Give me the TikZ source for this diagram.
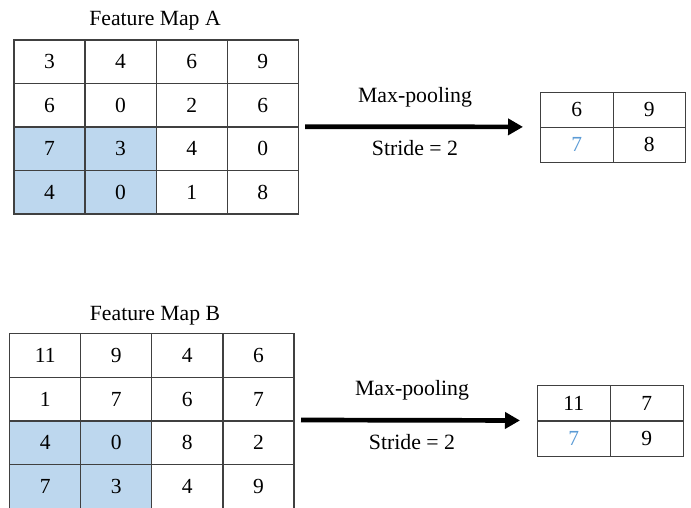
\documentclass[tikz,border=0pt]{standalone}
\usepackage{fontspec}
\setmainfont{Liberation Serif}
\usetikzlibrary{arrows.meta}
\definecolor{gridc}{HTML}{404040}
\definecolor{cellblue}{HTML}{BDD7EE}
\definecolor{txtblue}{HTML}{5B9BD5}
\tikzset{
  cellA/.style={draw=gridc, line width=1.2pt, minimum width=71.1pt, minimum height=43.5pt,
    inner sep=0pt, anchor=north west, font=\fontsize{21.5}{26}\selectfont},
  cellB/.style={cellA, minimum height=43.8pt},
  outA/.style={cellA, minimum width=72.5pt, minimum height=35pt},
  outB/.style={cellA, minimum width=73pt, minimum height=35.3pt},
  blue/.style={fill=cellblue},
  plain/.style={},
  bluetxt/.style={text=txtblue},
  title/.style={font=\fontsize{21.7}{26}\selectfont, inner sep=0pt},
  lbl/.style={font=\fontsize{21.8}{26}\selectfont, inner sep=0pt},
  bigarrow/.style={line width=4.7pt, -{Triangle[length=15pt,width=16pt]}},
}
\begin{document}
\begin{tikzpicture}[x=1pt,y=-1pt]
\useasboundingbox (0,0) rectangle (691,507);
% Feature Map A
\node[title] (tA) at (155,21) {Feature Map A};
\foreach \r/\c/\v/\s in {2/0/7/blue,2/1/3/blue,3/0/4/blue,3/1/0/blue,
  0/0/3/plain,0/1/4/plain,0/2/6/plain,0/3/9/plain,
  1/0/6/plain,1/1/0/plain,1/2/2/plain,1/3/6/plain,
  2/2/4/plain,2/3/0/plain,3/2/1/plain,3/3/8/plain}
  \node[cellA,\s] (A-\r-\c) at ({13.3+71.1*\c},{39.3+43.5*\r}) {\v};
% Feature Map B
\node[title] (tB) at (155,316) {Feature Map B};
\foreach \r/\c/\v/\s in {2/0/4/blue,2/1/0/blue,3/0/7/blue,3/1/3/blue,
  0/0/11/plain,0/1/9/plain,0/2/4/plain,0/3/6/plain,
  1/0/1/plain,1/1/7/plain,1/2/6/plain,1/3/7/plain,
  2/2/8/plain,2/3/2/plain,3/2/4/plain,3/3/9/plain}
  \node[cellB,\s] (B-\r-\c) at ({9+71.1*\c},{332.7+43.8*\r}) {\v};
% Output A
\node[inner sep=0pt, minimum width=145pt, minimum height=70pt, anchor=north west] (oA) at (540,91.7) {};
\foreach \r/\c/\v/\s in {0/0/6/plain,0/1/9/plain,1/0/7/bluetxt,1/1/8/plain}
  \node[outA,\s] (oA-\r-\c) at ({540+72.5*\c},{91.7+35*\r}) {\v};
% Output B
\node[inner sep=0pt, minimum width=146pt, minimum height=70.6pt, anchor=north west] (oB) at (536.7,385) {};
\foreach \r/\c/\v/\s in {0/0/11/plain,0/1/7/plain,1/0/7/bluetxt,1/1/9/plain}
  \node[outB,\s] (oB-\r-\c) at ({536.7+73*\c},{385+35.3*\r}) {\v};
% Arrows
\coordinate (sA) at (305,126.7);
\coordinate (sB) at (301,420);
\draw[bigarrow, shorten >=17pt] (sA) -- (oA.west);
\draw[bigarrow, shorten >=16.7pt] (sB) -- (oB.west);
\node[lbl] (mpA) at (415,97) {Max-pooling};
\node[lbl] (stA) at (415,148) {Stride = 2};
\node[lbl] (mpB) at (412,390) {Max-pooling};
\node[lbl] (stB) at (412,442) {Stride = 2};
\end{tikzpicture}
\end{document}
